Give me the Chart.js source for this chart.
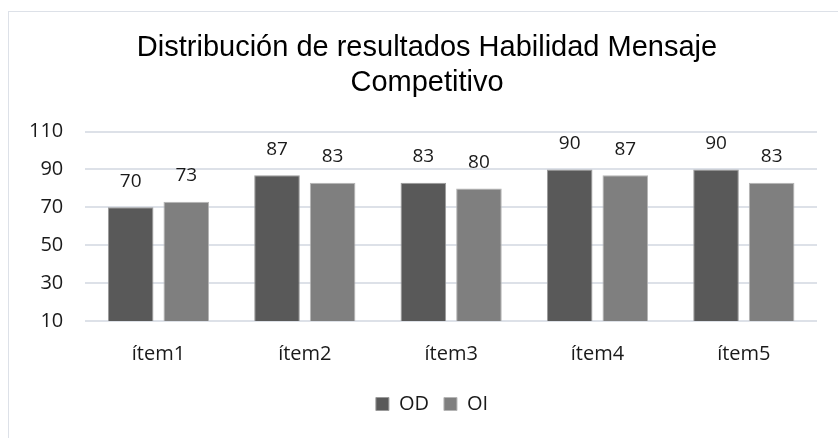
<!DOCTYPE html>
<html>
<head>
<meta charset="utf-8">
<script src="https://cdn.jsdelivr.net/npm/chart.js@4.4.0/dist/chart.umd.min.js"></script>
<style>
  html, body { margin: 0; padding: 0; background: #fff; }
  #wrap { position: relative; width: 838px; height: 438px; overflow: hidden; }
  #frame { position: absolute; left: 8px; top: 11px; width: 850px; height: 450px; border: 1px solid #dde1e8; }
  canvas { position: absolute; left: 0; top: 0; }
</style>
</head>
<body>
<div id="wrap">
  <div id="frame"></div>
  <canvas id="grafico" width="838" height="438"></canvas>
</div>
<script>
var categorias = ['ítem1', 'ítem2', 'ítem3', 'ítem4', 'ítem5'];
var valoresOD = [70, 87, 83, 90, 90];
var valoresOI = [73, 83, 80, 87, 83];
var ticksY = [10, 30, 50, 70, 90, 110];

var fuente = '"Open Sans", "DejaVu Sans", sans-serif';

// etiquetas de valor encima de cada barra
var etiquetas = {
  id: 'etiquetas',
  afterLayout: function (chart) {
    // titulo y leyenda del original van centrados en el marco completo, algo a la derecha
    if (chart.titleBlock) chart.titleBlock.left = 37;
    if (chart.legend) chart.legend.left = 47;
  },
  afterDatasetsDraw: function (chart) {
    var ctx = chart.ctx;
    ctx.save();
    ctx.font = '19px ' + fuente;
    ctx.fillStyle = '#1a1a1a';
    ctx.textAlign = 'center';
    ctx.textBaseline = 'middle';
    chart.data.datasets.forEach(function (ds, i) {
      chart.getDatasetMeta(i).data.forEach(function (bar, j) {
        ctx.fillText(ds.data[j], bar.x, bar.y - 26);
      });
    });
    ctx.restore();
  }
};

var ctx = document.getElementById('grafico').getContext('2d');
var grafico = new Chart(ctx, {
  type: 'bar',
  data: {
    labels: categorias,
    datasets: [{
      label: 'OD',
      data: valoresOD,
      backgroundColor: '#595959',
      borderColor: '#9a9a9a',
      borderWidth: 1,
      categoryPercentage: 0.76,
      barPercentage: 0.82
    }, {
      label: 'OI',
      data: valoresOI,
      backgroundColor: '#7f7f7f',
      borderColor: '#b5b5b5',
      borderWidth: 1,
      categoryPercentage: 0.76,
      barPercentage: 0.82
    }]
  },
  plugins: [etiquetas],
  options: {
    responsive: false,
    animation: false,
    layout: { padding: { left: 7, right: 21, top: 31, bottom: 14 } },
    plugins: {
      title: {
        display: true,
        text: ['Distribución de resultados Habilidad Mensaje', 'Competitivo'],
        color: '#000',
        font: { family: '"Liberation Sans", Arial, sans-serif', size: 29, weight: 'normal', lineHeight: 1.2 },
        padding: { top: 0, bottom: 31 }
      },
      legend: {
        position: 'bottom',
        labels: {
          color: '#1a1a1a',
          boxWidth: 13,
          boxHeight: 13,
          padding: 15,
          font: { family: fuente, size: 20 }
        }
      },
      tooltip: { enabled: false }
    },
    scales: {
      x: {
        grid: { display: false },
        border: { display: false },
        ticks: { color: '#1a1a1a', padding: 13, font: { family: fuente, size: 20 } }
      },
      y: {
        min: ticksY[0],
        max: ticksY[ticksY.length - 1],
        afterBuildTicks: function (axis) {
          axis.ticks = ticksY.map(function (v) { return { value: v }; });
        },
        grid: { color: '#dde1e8', lineWidth: 2, drawTicks: false },
        border: { display: false },
        ticks: { color: '#1a1a1a', padding: 22, font: { family: fuente, size: 20 } }
      }
    }
  }
});
</script>
</body>
</html>
